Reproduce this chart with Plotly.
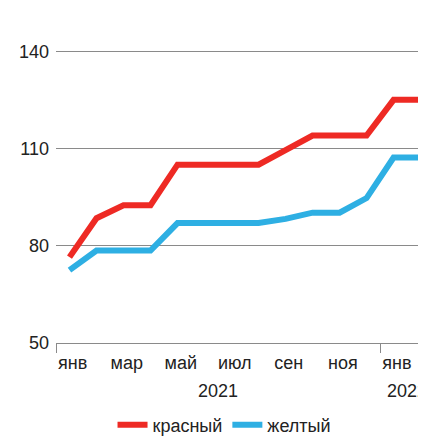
import plotly.graph_objects as go

months_idx = list(range(14))
red_vals = [76.5, 88.5, 92.5, 92.5, 105, 105, 105, 105, 109.5, 114, 114, 114, 125, 125]
blue_vals = [72.5, 78.5, 78.5, 78.5, 87, 87, 87, 87, 88.3, 90.2, 90.2, 94.7, 107.2, 107.2]
tick_pos = [0.62, 2.62, 4.62, 6.62, 8.62, 10.62, 12.62]
tick_text = ["янв", "мар", "май", "июл", "сен", "ноя", "янв"]
year_pos = [6, 13]
year_text = ["2021", "2022"]
year_bounds = [0, 12]
y_ticks = [50, 80, 110, 140]
series_names = ["красный", "желтый"]

x_mid = [m + 0.5 for m in months_idx]
FONT = "Liberation Sans, Arial, sans-serif"

fig = go.Figure()
fig.add_trace(go.Scatter(x=x_mid, y=red_vals, mode="lines", name=series_names[0],
                         line=dict(color="#ee2a24", width=6), xaxis="x", yaxis="y"))
fig.add_trace(go.Scatter(x=x_mid, y=blue_vals, mode="lines", name=series_names[1],
                         line=dict(color="#2eafe3", width=6), xaxis="x", yaxis="y"))

for p, t in zip(year_pos, year_text):
    fig.add_annotation(x=p, y=0, xref="x", yref="paper", text=t, showarrow=False,
                       yshift=-60, font=dict(size=18, color="#222", family=FONT))

# page body has an 8px default margin; figure sized to end at window edges
fig.update_layout(
    width=418, height=429,
    margin=dict(l=48, r=0, t=40, b=94),
    plot_bgcolor="white", paper_bgcolor="white",
    font=dict(family=FONT, size=18, color="#222"),
    showlegend=True,
    legend=dict(orientation="h", x=0.518, xanchor="center", xref="container",
                yref="container", y=0.028, yanchor="middle",
                font=dict(size=18), itemwidth=30),
    xaxis=dict(range=[0, 13.7], tickvals=tick_pos, ticktext=tick_text, ticks="",
               showgrid=False, zeroline=False, showline=True, linecolor="#8a8a8a",
               linewidth=1, tickfont=dict(size=18, color="#222"), automargin=False,
               ticklabelstandoff=3),
    xaxis2=dict(range=[0, 13.7], overlaying="x", anchor="y", side="bottom",
                tickvals=year_bounds, ticks="outside", ticklen=9, tickcolor="#8a8a8a",
                tickwidth=1, showticklabels=False, showgrid=False, zeroline=False,
                automargin=False),
    yaxis=dict(range=[50, 141], tickvals=y_ticks, showgrid=True, gridcolor="#8a8a8a",
               gridwidth=1, zeroline=False, showline=False, ticks="",
               tickfont=dict(size=18, color="#222"), automargin=False,
               ticklabelstandoff=6),
)
fig.add_trace(go.Scatter(x=[0, 13.7], y=[None, None], xaxis="x2", yaxis="y",
                         showlegend=False, hoverinfo="skip"))
fig.write_html("out.html")
